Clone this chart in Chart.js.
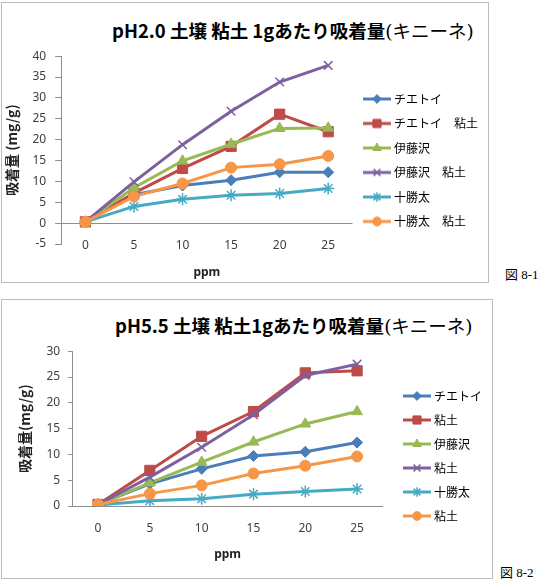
<!DOCTYPE html>
<html>
<head>
<meta charset="utf-8">
<script src="https://cdn.jsdelivr.net/npm/chart.js@4.4.1/dist/chart.umd.min.js"></script>
<style>
body { margin: 0; background: #fff; width: 549px; height: 587px; position: relative; overflow: hidden; font-family: "Noto Sans CJK JP", sans-serif; }
.box { position: absolute; border: 1px solid #bdbdbd; box-sizing: border-box; }
.ttl { position: absolute; white-space: nowrap; font-size: 18.5px; line-height: 22px; font-weight: bold; color: #000; }
.ttl span { font-weight: normal; font-family: "DejaVu Serif", "Noto Sans CJK JP", serif; }
canvas { position: absolute; }
.fig { position: absolute; font-family: "Liberation Serif", "Noto Sans CJK JP", serif; font-size: 13px; line-height: 16px; color: #000; }
</style>
</head>
<body>
<div class="box" style="left:1px; top:2px; width:488px; height:281px;"></div>
<div class="box" style="left:1px; top:299px; width:492px; height:280px;"></div>
<div class="ttl" style="left:112px; top:19px;">pH2.0 土壌 粘土 1gあたり吸着量<span>(キニーネ)</span></div>
<div class="ttl" style="left:115px; top:314px;">pH5.5 土壌 粘土1gあたり吸着量<span>(キニーネ)</span></div>
<canvas id="chart-ph20" width="486" height="241" style="left:2px; top:40px;"></canvas>
<canvas id="chart-ph55" width="490" height="241" style="left:2px; top:336px;"></canvas>
<div class="fig" style="left:505px; top:267px;">図 8-1</div>
<div class="fig" style="left:500px; top:565px;">図 8-2</div>
<script>
/**************************************************************
                     DATA
***************************************************************/
let ppmLabels = ['0', '5', '10', '15', '20', '25']

let ph20Names = ['チエトイ', 'チエトイ　粘土', '伊藤沢', '伊藤沢　粘土', '十勝太', '十勝太　粘土']
let ph20Chietoi      = [0.3, 6.8, 9.0, 10.3, 12.2, 12.2]
let ph20ChietoiClay  = [0.3, 7.2, 13.1, 18.4, 26.1, 21.9]
let ph20Itosawa      = [0.3, 8.5, 14.9, 18.9, 22.7, 22.8]
let ph20ItosawaClay  = [0.3, 9.9, 18.8, 26.8, 33.8, 37.8]
let ph20Tokachi      = [0.3, 4.0, 5.7, 6.7, 7.1, 8.3]
let ph20TokachiClay  = [0.3, 6.4, 9.5, 13.3, 14.1, 16.1]

let ph55Names = ['チエトイ', '粘土', '伊藤沢', '粘土', '十勝太', '粘土']
let ph55Chietoi      = [0.3, 4.3, 7.2, 9.7, 10.5, 12.3]
let ph55ChietoiClay  = [0.3, 6.9, 13.5, 18.3, 25.8, 26.2]
let ph55Itosawa      = [0.3, 4.5, 8.5, 12.4, 15.9, 18.3]
let ph55ItosawaClay  = [0.3, 5.6, 11.4, 17.7, 25.3, 27.5]
let ph55Tokachi      = [0.2, 1.0, 1.4, 2.3, 2.8, 3.3]
let ph55TokachiClay  = [0.3, 2.4, 4.0, 6.3, 7.8, 9.6]

/*** Excel style series look ***/
let seriesColors = ['#4A7EBB', '#BE4B48', '#98B954', '#7D60A0', '#46AAC5', '#F79646']
let seriesMarkers = [
    { style: 'rectRot', radius: 5.5, border: 1 },
    { style: 'rect', radius: 7.2, border: 1 },
    { style: 'triangle', radius: 6.2, border: 1 },
    { style: 'crossRot', radius: 6, border: 1.5 },
    { style: 'star', radius: 6, border: 1.5 },
    { style: 'circle', radius: 5.5, border: 1 }
]
let axisGray = '#8e8e8e'
let tickFont = { family: 'Noto Sans', size: 12 }

/*** small line + marker picture used as legend symbol ***/
function legendIcon(i, lead, boxW) {
    let c = document.createElement('canvas')
    c.width = boxW + 6
    c.height = 14
    let ctx = c.getContext('2d')
    ctx.strokeStyle = seriesColors[i]
    ctx.fillStyle = seriesColors[i]
    ctx.lineWidth = 3
    ctx.beginPath()
    ctx.moveTo(lead + 3, 7)
    ctx.lineTo(lead + 31, 7)
    ctx.stroke()
    ctx.lineWidth = seriesMarkers[i].border
    Chart.helpers.drawPoint(ctx, {
        pointStyle: seriesMarkers[i].style,
        radius: seriesMarkers[i].radius * 0.8,
        rotation: 0,
        borderWidth: seriesMarkers[i].border
    }, lead + 17, 7)
    return c
}

/*** x labels sit a little inside the plot, like Excel "low" labels: do not clip them ***/
let unclipTicks = {
    id: 'unclipTicks',
    beforeDraw(chart) {
        chart.scales.x._computeLabelArea = () => undefined
    }
}

function makeDatasets(names, values) {
    return values.map((v, i) => ({
        label: names[i],
        data: v,
        borderColor: seriesColors[i],
        backgroundColor: seriesColors[i],
        borderWidth: 3,
        tension: 0,
        pointStyle: seriesMarkers[i].style,
        pointRadius: seriesMarkers[i].radius,
        pointBorderWidth: seriesMarkers[i].border,
        pointBackgroundColor: seriesColors[i],
        pointBorderColor: seriesColors[i],
        order: values.length - i
    }))
}

function makeConfig(s) {
    let icons = s.datasets.map((d, i) => legendIcon(i, s.lead, s.lead + 25))
    return {
        type: 'line',
        data: { labels: ppmLabels, datasets: s.datasets },
        plugins: [unclipTicks],
        options: {
            responsive: false,
            animation: false,
            layout: { padding: s.padding },
            plugins: {
                title: { display: false },
                tooltip: { enabled: false },
                legend: {
                    position: 'right',
                    align: 'start',
                    maxWidth: 220,
                    title: { display: true, text: '', font: { size: 1, lineHeight: 1 }, padding: { top: s.legendTop, bottom: 0 } },
                    labels: {
                        usePointStyle: true,
                        pointStyleWidth: s.lead + 25,
                        padding: s.legendPad,
                        color: '#000',
                        font: { family: 'Noto Sans CJK JP', size: 12 },
                        sort: (a, b) => a.datasetIndex - b.datasetIndex,
                        generateLabels: chart => Chart.defaults.plugins.legend.labels.generateLabels(chart).map(item => {
                            item.pointStyle = icons[item.datasetIndex]
                            return item
                        })
                    }
                }
            },
            scales: {
                x: {
                    offset: true,
                    grid: { display: false, drawTicks: false },
                    border: { display: false },
                    ticks: { color: '#404040', font: tickFont, padding: s.xTickPad, maxRotation: 0 },
                    title: { display: true, text: 'ppm', color: '#222', font: { family: 'Noto Sans', size: 12, weight: 'bold' }, padding: s.xTitlePad }
                },
                y: {
                    min: s.yMin,
                    max: s.yMax,
                    ticks: { stepSize: 5, color: '#404040', font: tickFont, padding: s.yTickPad },
                    grid: {
                        color: c => (c.tick && c.tick.value === 0) ? axisGray : 'rgba(0,0,0,0)',
                        tickColor: axisGray,
                        tickLength: s.tickLen,
                        lineWidth: 1
                    },
                    border: { display: true, color: axisGray },
                    title: { display: true, text: s.yTitle, color: '#222', font: { family: 'Noto Sans CJK JP', size: 14, weight: 'bold' }, padding: s.yTitlePad }
                }
            }
        }
    }
}

/*** pH 2.0 chart ***/
let ph20Canvas = document.getElementById('chart-ph20').getContext('2d')
let ph20Chart = new Chart(ph20Canvas, makeConfig({
    datasets: makeDatasets(ph20Names, [ph20Chietoi, ph20ChietoiClay, ph20Itosawa, ph20ItosawaClay, ph20Tokachi, ph20TokachiClay]),
    padding: { top: 0, left: 0, right: 0, bottom: 0 },
    lead: -2,
    legendPad: 12.5,
    legendTop: 39.5,
    xTickPad: -5.2,
    xTitlePad: { top: 17.8, bottom: 0.8 },
    yMin: -5, yMax: 40,
    yTickPad: 9,
    tickLen: 6,
    yTitle: '吸着量 (mg/g)',
    yTitlePad: { top: 1.6, bottom: 3 }
}))

/*** pH 5.5 chart ***/
let ph55Canvas = document.getElementById('chart-ph55').getContext('2d')
let ph55Chart = new Chart(ph55Canvas, makeConfig({
    datasets: makeDatasets(ph55Names, [ph55Chietoi, ph55ChietoiClay, ph55Itosawa, ph55ItosawaClay, ph55Tokachi, ph55TokachiClay]),
    padding: { top: 0, left: 13, right: 0, bottom: 0 },
    lead: 8,
    legendPad: 12,
    legendTop: 41,
    xTickPad: 15.8,
    xTitlePad: { top: -4.2, bottom: 14.8 },
    yMin: 0, yMax: 30,
    yTickPad: 8,
    tickLen: 4,
    yTitle: '吸着量(mg/g)',
    yTitlePad: { top: 1.6, bottom: 5 }
}))
</script>
</body>
</html>
